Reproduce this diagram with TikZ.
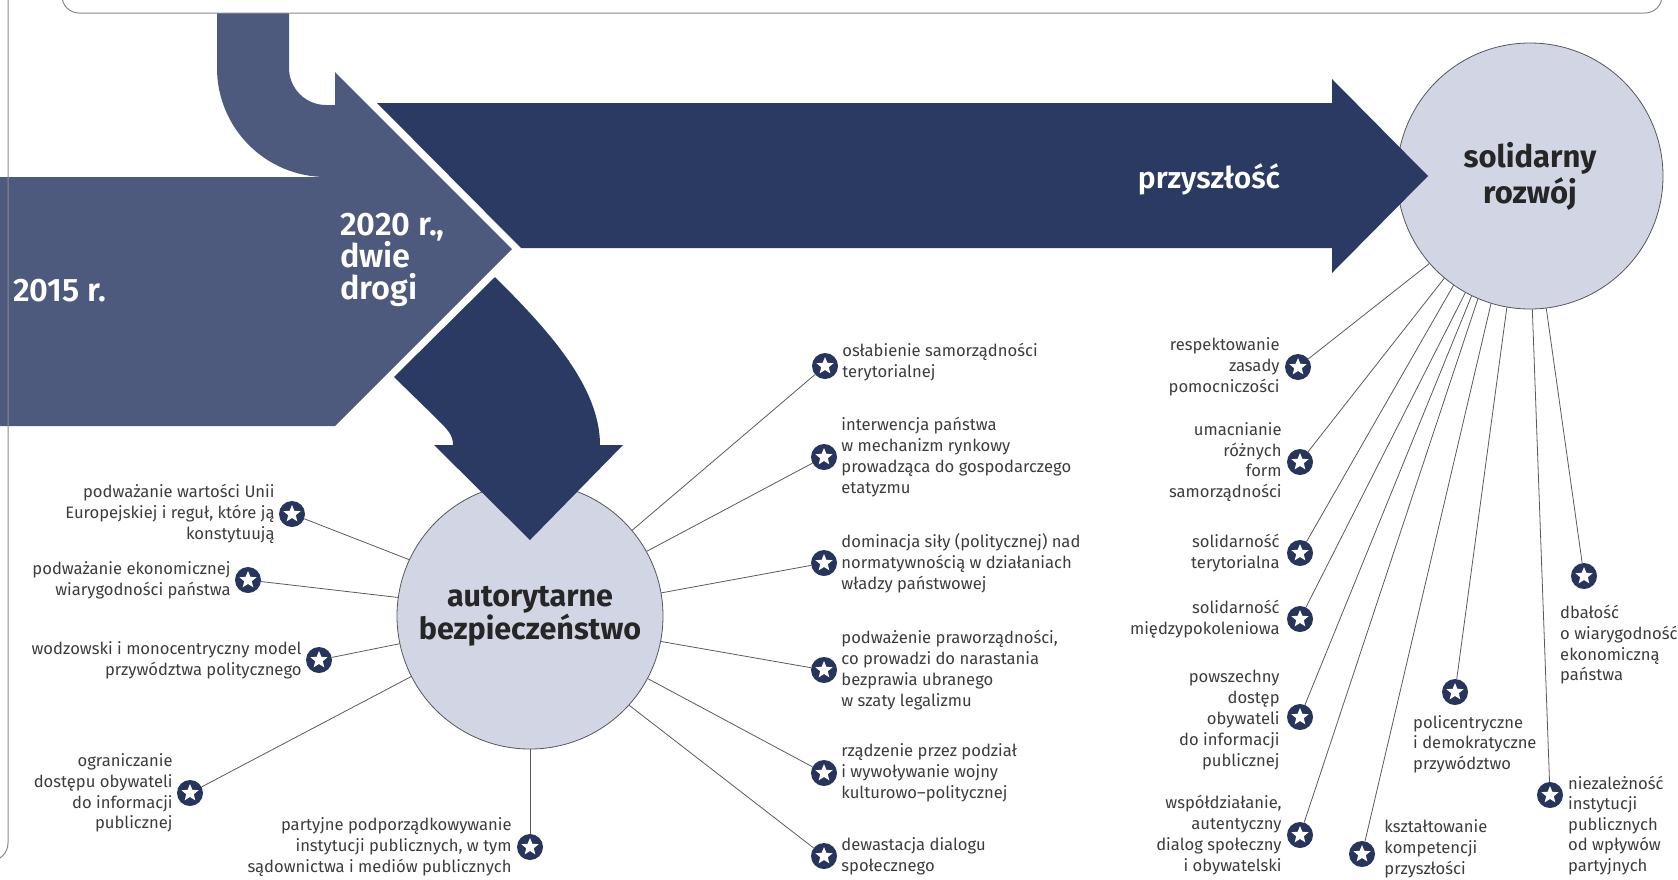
\documentclass[tikz,border=0pt]{standalone}
\usepackage{fontspec}
\setmainfont{Fira Sans}
\IfFontExistsTF{Fira Sans SemiBold}{\newfontfamily\semib{Fira Sans SemiBold}}{\newfontfamily\semib{Fira Sans Bold}}
\newfontfamily\boldfam{Fira Sans Bold}
\usetikzlibrary{positioning}
\definecolor{lightarrow}{HTML}{4E597E}
\definecolor{darkarrow}{HTML}{2A3A63}
\definecolor{circfill}{HTML}{D2D5E3}
\definecolor{circline}{HTML}{55565E}
\definecolor{navy}{HTML}{27345B}
\definecolor{txtcol}{HTML}{3C3C3C}
\definecolor{spokecol}{HTML}{5A5A5A}
\definecolor{framecol}{HTML}{8A8A8A}
\begin{document}
\begin{tikzpicture}[x=1pt,y=-1pt,
  frame/.style={draw=framecol, line width=1pt, rounded corners=17pt},
  circ/.style={circle, fill=circfill, draw=circline, line width=0.8pt, minimum size=266pt, inner sep=0pt, align=center, text=black!85, font=\boldfam\fontsize{30.5}{33}\selectfont},
  starm/.style={circle, fill=navy, minimum size=26pt, inner sep=0pt,
    path picture={\fill[white] (path picture bounding box.center)
      +(90:9pt) -- +(126:4pt) -- +(162:9pt) -- +(198:4pt) -- +(234:9pt) -- +(270:4pt)
      -- +(306:9pt) -- +(342:4pt) -- +(18:9pt) -- +(54:4pt) -- cycle;}},
  lbl/.style={inner sep=0pt, text=txtcol, font=\fontsize{16.6}{20.8}\selectfont},
  lblR/.style={lbl, align=right},
  lblL/.style={lbl, align=left},
  spk/.style={draw=spokecol, line width=0.8pt},
  wlbl/.style={inner sep=0pt, text=white, align=left, font=\semib\fontsize{32.5}{32}\selectfont}
]
\useasboundingbox (0,0) rectangle (1678,879);

% circles
\node[circ] (A) at (530,616) {autorytarne\\bezpiecze\'nstwo};
\node[circ, font=\boldfam\fontsize{31}{36}\selectfont] (S) at (1530,176) {solidarny\\rozwój};

% stars around A
\node[starm] (s1) at (292,514) {};
\node[starm] (s2) at (248,580) {};
\node[starm] (s3) at (319,660) {};
\node[starm] (s4) at (190,793) {};
\node[starm] (s5) at (530,847) {};
\node[starm] (s6) at (825,366) {};
\node[starm] (s7) at (824,457) {};
\node[starm] (s8) at (824,563) {};
\node[starm] (s9) at (824,670) {};
\node[starm] (s10) at (824,773) {};
\node[starm] (s11) at (824,856) {};

\node[lblR, left=4pt of s1] (l1) {podważanie wartości Unii\\Europejskiej i reguł, które ją\\konstytuują};
\node[lblR, left=4pt of s2] (l2) {podważanie ekonomicznej\\wiarygodności państwa};
\node[lblR, left=4pt of s3] (l3) {wodzowski i monocentryczny model\\przywództwa politycznego};
\node[lblR, left=4pt of s4] (l4) {ograniczanie\\dostępu obywateli\\do informacji\\publicznej};
\node[lblR, left=5pt of s5] (l5) {partyjne podporządkowywanie\\instytucji publicznych, w tym\\sądownictwa i mediów publicznych};
\node[lblL, right=4pt of s6, yshift=4pt] (l6) {osłabienie samorządności\\terytorialnej};
\node[lblL, right=4pt of s7] (l7) {interwencja państwa\\w mechanizm rynkowy\\prowadząca do gospodarczego\\etatyzmu};
\node[lblL, right=4pt of s8] (l8) {dominacja siły (politycznej) nad\\normatywnością w działaniach\\władzy państwowej};
\node[lblL, right=4pt of s9] (l9) {podważenie praworządności,\\co prowadzi do narastania\\bezprawia ubranego\\w szaty legalizmu};
\node[lblL, right=4pt of s10] (l10) {rządzenie przez podział\\i wywoływanie wojny\\kulturowo–politycznej};
\node[lblL, right=4pt of s11] (l11) {dewastacja dialogu\\społecznego};

% stars around S
\node[starm] (r1) at (1298,367) {};
\node[starm] (r2) at (1300,462) {};
\node[starm] (r3) at (1300,553) {};
\node[starm] (r4) at (1300,619) {};
\node[starm] (r5) at (1300,717) {};
\node[starm] (r6) at (1300,835) {};
\node[starm] (r7) at (1362,854) {};
\node[starm] (r8) at (1455,692) {};
\node[starm] (r9) at (1550,795) {};
\node[starm] (r10) at (1584,576) {};

\node[lblR, left=5pt of r1] (m1) {respektowanie\\zasady\\pomocniczości};
\node[lblR, left=5pt of r2] (m2) {umacnianie\\różnych\\form\\samorządności};
\node[lblR, left=7pt of r3] (m3) {solidarność\\terytorialna};
\node[lblR, left=7pt of r4] (m4) {solidarność\\międzypokoleniowa};
\node[lblR, left=7pt of r5, yshift=-3pt] (m5) {powszechny\\dostęp\\obywateli\\do informacji\\publicznej};
\node[lblR, left=5pt of r6] (m6) {współdziałanie,\\autentyczny\\dialog społeczny\\i obywatelski};
\node[lblL, right=9pt of r7, yshift=5pt] (m7) {kształtowanie\\kompetencji\\przyszłości};
\node[lblL, anchor=north west] (m8) at (1413,715) {policentryczne\\i demokratyczne\\przywództwo};
\node[lblL, anchor=north west, font=\fontsize{16.6}{20.4}\selectfont] (m9) at (1568,776) {niezależność\\instytucji\\publicznych\\od wpływów\\partyjnych};
\node[lblL, anchor=north west] (m10) at (1560,605) {dbałość\\o wiarygodność\\ekonomiczną\\państwa};

% spokes
\draw[spk] (A.155.9) -- (s1);
\draw[spk] (A.172) -- (s2);
\draw[spk] (A.192) -- (s3);
\draw[spk] (A.207) -- (s4);
\draw[spk] (A.270) -- (s5);
\draw[spk] (A.40.7) -- (s6);
\draw[spk] (A.29) -- (s7);
\draw[spk] (A.10) -- (s8);
\draw[spk] (A.-11.7) -- (s9);
\draw[spk] (A.-28.6) -- (s10);
\draw[spk] (A.-42) -- (s11);
\draw[spk] (S.221.9) -- (r1);
\draw[spk] (S.230.2) -- (r2);
\draw[spk] (S.235.7) -- (r3);
\draw[spk] (S.241.2) -- (r4);
\draw[spk] (S.244.6) -- (r5);
\draw[spk] (S.247.7) -- (r6);
\draw[spk] (S.253.9) -- (r7);
\draw[spk] (S.260) -- (r8);
\draw[spk] (S.271.4) -- (r9);
\draw[spk] (S.277.3) -- (r10);

% big arrows
\fill[lightarrow] (0,177) -- (326,177) arc[start angle=270, end angle=180, radius=109pt]
  -- (217,13) -- (289,13) -- (289,68) arc[start angle=180, end angle=270, radius=37pt]
  -- (335,105) -- (335,72) -- (512,249) -- (335,426) -- (0,426) -- cycle;
\fill[darkarrow] (377,103) -- (1332,103) -- (1332,79) -- (1428,176) -- (1332,273)
  -- (1332,248) -- (521,248) -- cycle;
\fill[darkarrow] (394,377) -- (495,277) .. controls (545,327) and (600,385) .. (600,445)
  -- (623,445) -- (530,540) -- (434,445) -- (453,445)
  .. controls (453,435) and (448,430) .. (437,419) -- cycle;

\node[wlbl, anchor=west] (t1) at (13,291) {2015 r.};
\node[wlbl, anchor=west] (t2) at (340,260) {2020 r.,\\dwie\\drogi};
\node[wlbl, font=\semib\fontsize{30}{30}\selectfont] (t3) at (1209,179) {przyszłość};

% frames
\draw[frame] (62,-60) rectangle (1662,13);
\draw[frame, rounded corners=18pt] (-100,-60) rectangle (8,861);
\end{tikzpicture}
\end{document}
